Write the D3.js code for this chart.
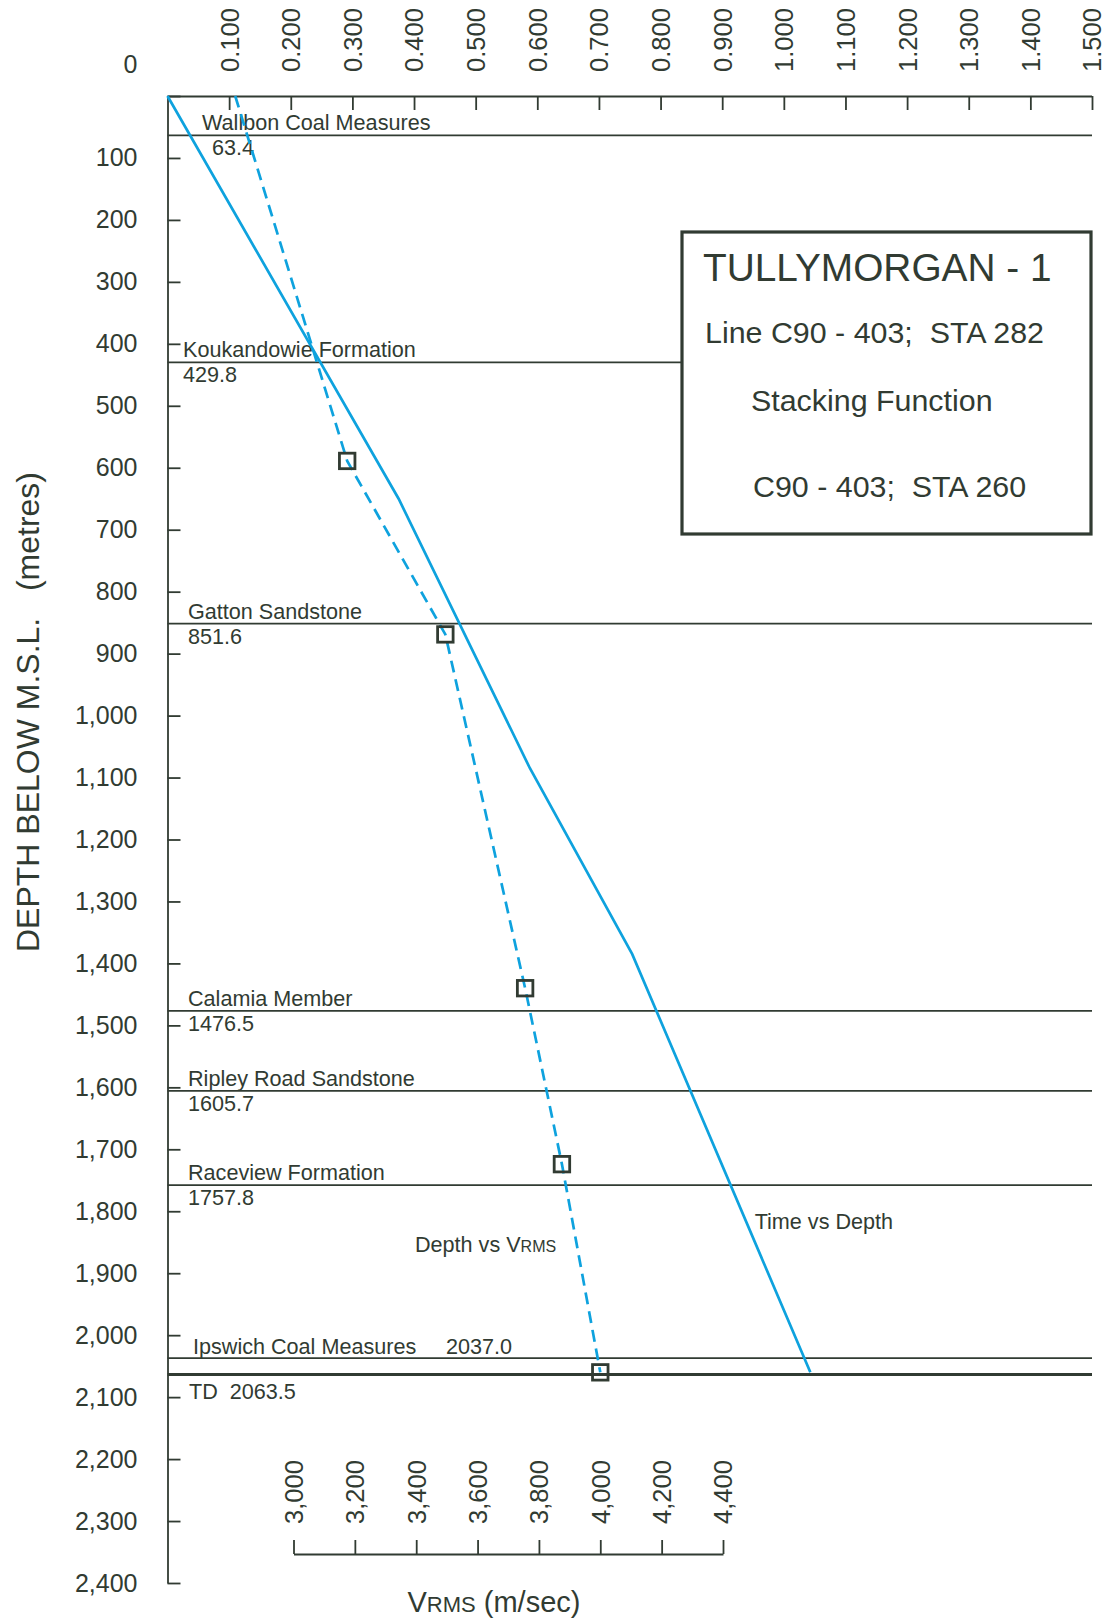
<!DOCTYPE html>
<html>
<head>
<meta charset="utf-8">
<script src="https://cdn.jsdelivr.net/npm/d3@7"></script>
<style>
  html, body { margin: 0; padding: 0; background: #ffffff; }
  svg { display: block; }
  text { font-family: "Liberation Sans", Arial, Helvetica, sans-serif; fill: #313b32; }
</style>
</head>
<body>
<svg id="chart" width="1116" height="1621"></svg>
<script>
// Time vs depth: two-way time (s) against depth below M.S.L. (m)
const timeValues = [0, 0.375, 0.588, 0.754, 1.043];
const timeDepths = [0, 650, 1085, 1385, 2060];

// Stacking function: RMS velocity picks (m/s) and their depths (m)
const vrmsValues = [3175, 3495, 3755, 3875, 4000];
const vrmsDepths = [589, 869, 1440, 1724, 2060];
// the dashed trend is carried up to the surface at this velocity
const vrmsSurface = 2810;

// Formation tops (m below M.S.L.)
const formationNames  = ["Wallbon Coal Measures", "Koukandowie Formation", "Gatton Sandstone",
                         "Calamia Member", "Ripley Road Sandstone", "Raceview Formation",
                         "Ipswich Coal Measures", "TD"];
const formationDepths = [63.4, 429.8, 851.6, 1476.5, 1605.7, 1757.8, 2037.0, 2063.5];

// Tick values
const depthTicks = d3.range(0, 2401, 100);
const timeTicks  = d3.range(1, 16).map(i => i / 10);
const vrmsTicks  = d3.range(3000, 4401, 200);

const ink  = "#313b32";
const blue = "#0ea2de";

const svg = d3.select("#chart");

const y  = d3.scaleLinear().domain([0, 2400]).range([96, 1583]);
const xT = d3.scaleLinear().domain([0, 1.5]).range([167.5, 1092]);
const xV = d3.scaleLinear().domain([3000, 4400]).range([293.5, 723]);

function styleAxis(g) {
  g.selectAll("path.domain").attr("stroke", ink).attr("stroke-width", 1.8);
  g.selectAll(".tick line").attr("stroke", ink).attr("stroke-width", 1.8);
  g.selectAll(".tick text").attr("fill", ink);
}

// ---- Formation tops (drawn first so the title box covers them) ----
const tops = formationNames.map((name, i) => ({ name, depth: formationDepths[i] }));

svg.append("g").selectAll("line")
  .data(tops)
  .join("line")
  .attr("x1", xT(0)).attr("x2", xT(1.5))
  .attr("y1", d => y(d.depth)).attr("y2", d => y(d.depth))
  .attr("stroke", ink)
  .attr("stroke-width", d => d.name === "TD" ? 3.2 : 1.8);

const labelFont = 21.6;
const nameX = { "Wallbon Coal Measures": 202, "Koukandowie Formation": 183,
                "Ipswich Coal Measures": 193, "TD": 189 };
const valueX = { "Wallbon Coal Measures": 212, "Koukandowie Formation": 183 };
const fmt1 = d3.format(".1f");

const topLabels = svg.append("g").style("font-size", labelFont + "px");
tops.forEach(t => {
  const ly = y(t.depth);
  if (t.name === "TD") {
    topLabels.append("text")
      .attr("x", nameX[t.name]).attr("y", ly + 24)
      .style("white-space", "pre")
      .text("TD  " + fmt1(t.depth));
  } else if (t.name === "Ipswich Coal Measures") {
    topLabels.append("text")
      .attr("x", nameX[t.name]).attr("y", ly - 4)
      .text(t.name);
    topLabels.append("text")
      .attr("x", 446).attr("y", ly - 4)
      .text(fmt1(t.depth));
  } else {
    topLabels.append("text")
      .attr("x", nameX[t.name] || 188).attr("y", ly - 5)
      .text(t.name);
    topLabels.append("text")
      .attr("x", valueX[t.name] || 188).attr("y", ly + 20)
      .text(fmt1(t.depth));
  }
});

// ---- Title box ----
const box = svg.append("g");
box.append("rect")
  .attr("x", 682).attr("y", 232).attr("width", 409).attr("height", 302)
  .attr("fill", "#ffffff").attr("stroke", ink).attr("stroke-width", 3.2);
box.append("text").attr("x", 703).attr("y", 281).style("font-size", "38.8px")
  .text("TULLYMORGAN - 1");
box.append("text").attr("x", 705).attr("y", 343).style("font-size", "30.4px")
  .style("white-space", "pre").text("Line C90 - 403;  STA 282");
box.append("text").attr("x", 751).attr("y", 411).style("font-size", "30.4px")
  .text("Stacking Function");
box.append("text").attr("x", 753).attr("y", 497).style("font-size", "30.4px")
  .style("white-space", "pre").text("C90 - 403;  STA 260");

// ---- Top axis: two-way time (s) ----
const gTop = svg.append("g")
  .attr("transform", `translate(0,${y(0)})`)
  .call(d3.axisTop(xT).tickValues(timeTicks).tickSize(-14).tickSizeOuter(0)
          .tickPadding(0).tickFormat(d3.format(".3f")));
gTop.select("path.domain").attr("d", `M${xT(0)},0.5H${xT(1.5)}`);
gTop.selectAll(".tick text")
  .attr("transform", "rotate(-90)")
  .attr("x", 24).attr("y", 0).attr("dy", "0.35em")
  .attr("text-anchor", "start")
  .style("font-size", "25.5px");
styleAxis(gTop);

// ---- Left axis: depth ----
const gLeft = svg.append("g")
  .attr("transform", `translate(${xT(0)},0)`)
  .call(d3.axisLeft(y).tickValues(depthTicks).tickSize(-13).tickSizeOuter(0)
          .tickPadding(30).tickFormat(d3.format(",")));
gLeft.selectAll(".tick text")
  .style("font-size", "25px")
  .attr("y", d => d === 0 ? -32 : 0);
styleAxis(gLeft);

// ---- Bottom axis: RMS velocity ----
const vAxisY = 1554;
const gV = svg.append("g")
  .attr("transform", `translate(0,${vAxisY})`)
  .call(d3.axisTop(xV).tickValues(vrmsTicks).tickSize(14).tickSizeOuter(0)
          .tickPadding(0).tickFormat(d3.format(",")));
gV.selectAll(".tick text")
  .attr("transform", "rotate(-90)")
  .attr("x", 30).attr("y", 0).attr("dy", "0.35em")
  .attr("text-anchor", "start")
  .style("font-size", "25.5px");
styleAxis(gV);

// ---- Curves ----
const timeLine = d3.line().x(d => xT(d[0])).y(d => y(d[1]));
svg.append("path")
  .datum(timeValues.map((t, i) => [t, timeDepths[i]]))
  .attr("d", timeLine)
  .attr("fill", "none").attr("stroke", blue).attr("stroke-width", 2.7);

const vLine = d3.line().x(d => xV(d[0])).y(d => y(d[1]));
const vPts = vrmsValues.map((v, i) => [v, vrmsDepths[i]]);
svg.append("path")
  .datum([[vrmsSurface, 0]].concat(vPts))
  .attr("d", vLine)
  .attr("fill", "none").attr("stroke", blue).attr("stroke-width", 2.7)
  .attr("stroke-dasharray", "12,7");

const sq = 15.5;
svg.append("g").selectAll("rect")
  .data(vPts)
  .join("rect")
  .attr("x", d => xV(d[0]) - sq / 2).attr("y", d => y(d[1]) - sq / 2)
  .attr("width", sq).attr("height", sq)
  .attr("fill", "none").attr("stroke", ink).attr("stroke-width", 2.8);

// ---- Curve labels ----
svg.append("text")
  .attr("x", xT(0.9527)).attr("y", y(1829))
  .style("font-size", labelFont + "px")
  .text("Time vs Depth");

const dv = svg.append("text")
  .attr("x", xV(3396)).attr("y", y(1866))
  .style("font-size", labelFont + "px");
dv.append("tspan").text("Depth vs V");
dv.append("tspan").style("font-size", "16px").text("RMS");

// ---- Axis titles ----
svg.append("text")
  .attr("transform", "translate(27,712) rotate(-90)")
  .attr("text-anchor", "middle").attr("dy", "0.36em")
  .style("font-size", "32px").style("white-space", "pre")
  .text("DEPTH BELOW M.S.L.   (metres)");

const xTitle = svg.append("text")
  .attr("x", 494).attr("y", 1612)
  .attr("text-anchor", "middle")
  .style("font-size", "29px");
xTitle.append("tspan").text("V");
xTitle.append("tspan").style("font-size", "22px").text("RMS");
xTitle.append("tspan").text(" (m/sec)");
</script>
</body>
</html>
